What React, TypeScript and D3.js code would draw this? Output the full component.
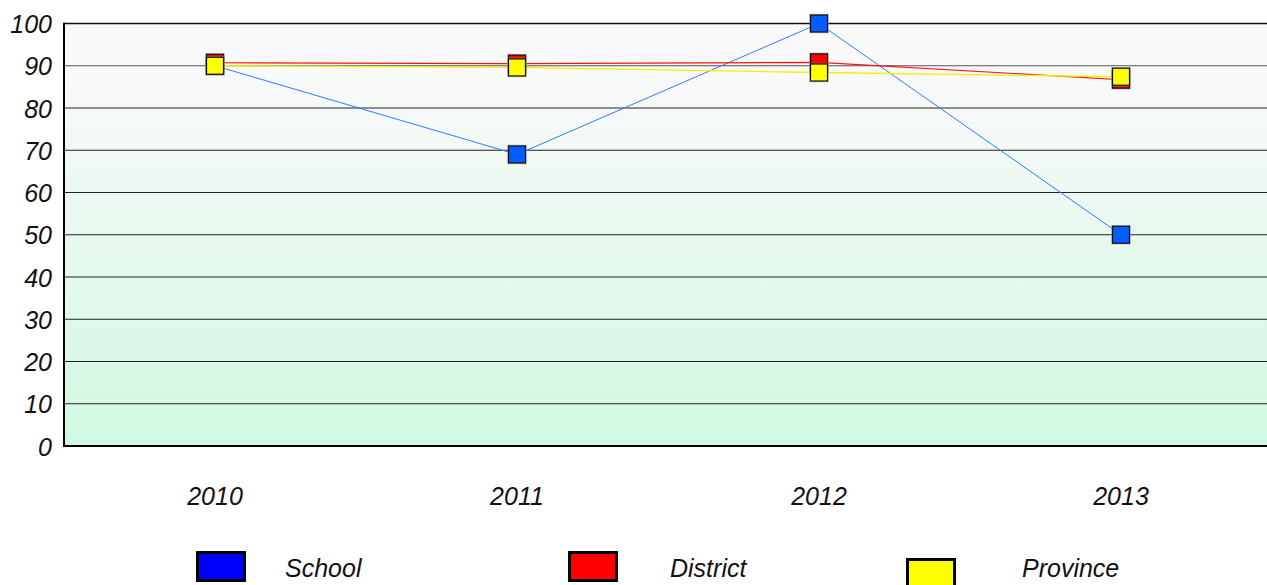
import React from "react";
import * as d3 from "d3";

const years = ["2010", "2011", "2012", "2013"];
const school = [90, 69, 100, 50];
const district = [90.7, 90.5, 90.8, 86.7];
const province = [90, 89.6, 88.4, 87.4];
const yTicks = [0, 10, 20, 30, 40, 50, 60, 70, 80, 90, 100];
const seriesNames = ["School", "District", "Province"];

const W = 1267;
const H = 585;
const M = { left: 64, top: 23.5, bottom: 446 };
const plotRight = 64 + 4 * 302;

const FONT = "'Liberation Sans', Arial, sans-serif";
const FS = 25;

export default function App() {
  const x = d3.scaleBand<string>().domain(years).range([M.left, plotRight]);
  const y = d3.scaleLinear().domain([0, 100]).range([M.bottom, M.top]);
  const cx = (yr: string) => (x(yr) as number) + x.bandwidth() / 2;

  const line = (vals: number[]) =>
    d3
      .line<number>()
      .x((_, i) => cx(years[i]))
      .y((v) => y(v))(vals) as string;

  const series = [
    { name: seriesNames[0], vals: school, line: "#2f7bff", fill: "#005eff", legend: "#0000ff", lw: 1 },
    { name: seriesNames[1], vals: district, line: "#ff1010", fill: "#ff0000", legend: "#ff0000", lw: 1.1 },
    { name: seriesNames[2], vals: province, line: "#f5f000", fill: "#ffff00", legend: "#ffff00", lw: 1.3 },
  ];

  const ms = 17;
  const legendPos = [
    { box: 196, text: 285, top: 551 },
    { box: 568, text: 670, top: 551 },
    { box: 906, text: 1022, top: 558 },
  ];

  return (
    <svg
      width={W}
      height={H}
      style={{ position: "absolute", left: 0, top: 0, background: "#fff" }}
      fontFamily={FONT}
    >
      <defs>
        <linearGradient id="bg" x1="0" y1="0" x2="0" y2="1">
          <stop offset="0" stopColor="#fafafa" />
          <stop offset="0.2" stopColor="#f7f9f8" />
          <stop offset="1" stopColor="#cff8e1" />
        </linearGradient>
      </defs>
      <rect x={M.left} y={M.top} width={plotRight - M.left} height={M.bottom - M.top} fill="url(#bg)" />
      {yTicks.map((t) => (
        <g key={t}>
          {t > 0 && (
            <line
              x1={M.left}
              x2={plotRight}
              y1={y(t)}
              y2={y(t)}
              stroke={t === 100 ? "#111" : t === 90 ? "#555" : "#222"}
              strokeWidth={t === 100 ? 1.6 : 1}
            />
          )}
          <text
            x={52}
            y={y(t)}
            dy="0.38em"
            textAnchor="end"
            fontSize={FS}
            fontStyle="italic"
            fill="#111"
          >
            {t}
          </text>
        </g>
      ))}
      <line x1={M.left} x2={M.left} y1={M.top - 0.8} y2={M.bottom + 1} stroke="#000" strokeWidth={2} />
      <line x1={M.left - 1} x2={plotRight} y1={M.bottom} y2={M.bottom} stroke="#000" strokeWidth={2} />
      {years.map((yr) => (
        <text
          key={yr}
          x={cx(yr)}
          y={505}
          textAnchor="middle"
          fontSize={FS}
          fontStyle="italic"
          fill="#111"
        >
          {yr}
        </text>
      ))}
      {series.map((s) => (
        <path key={s.name} d={line(s.vals)} fill="none" stroke={s.line} strokeWidth={s.lw} />
      ))}
      {series.map((s) => (
        <g key={s.name + "m"}>
          {s.vals.map((v, i) => (
            <g key={i}>
              <rect
                x={cx(years[i]) - ms / 2}
                y={y(v) - ms / 2}
                width={ms}
                height={ms}
                fill="none"
                stroke="#999"
                strokeWidth={2.5}
                opacity={0.6}
              />
              <rect
                x={cx(years[i]) - ms / 2}
                y={y(v) - ms / 2}
                width={ms}
                height={ms}
                fill={s.fill}
                stroke="#111"
                strokeWidth={1.2}
              />
            </g>
          ))}
        </g>
      ))}
      {series.map((s, i) => (
        <g key={s.name + "l"}>
          <rect
            x={legendPos[i].box + 1.5}
            y={legendPos[i].top + 1.5}
            width={47}
            height={28}
            fill={s.legend}
            stroke="#000"
            strokeWidth={3}
          />
          <text
            x={legendPos[i].text}
            y={577}
            fontSize={FS}
            fontStyle="italic"
            fill="#111"
          >
            {s.name}
          </text>
        </g>
      ))}
    </svg>
  );
}
